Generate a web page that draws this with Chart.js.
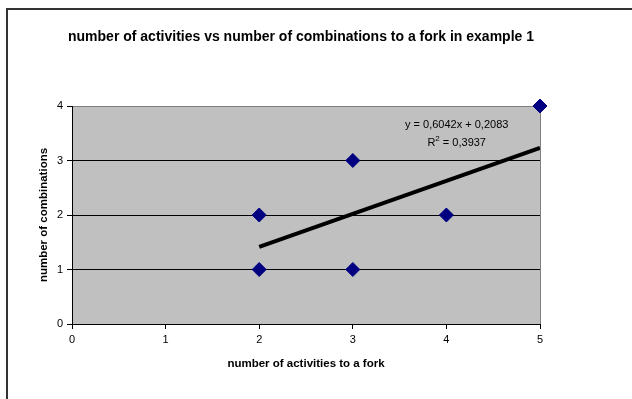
<!DOCTYPE html>
<html>
<head>
<meta charset="utf-8">
<script src="https://cdn.jsdelivr.net/npm/chart.js@4"></script>
<style>
  html, body { margin: 0; padding: 0; background: #ffffff; }
  #wrap { width: 632px; height: 399px; position: relative; }
</style>
</head>
<body>
<div id="wrap"><canvas id="chart" width="632" height="399"></canvas></div>
<script>
// Observations: activities to a fork (x) and combinations (y)
const activities = [2, 2, 3, 3, 4, 5];
const combinations = [1, 2, 1, 3, 2, 4];

// Linear trend fitted to the observations
const trendSlope = 0.6042;
const trendIntercept = 0.2083;
const rSquared = 0.3937;
const trendRange = [2, 5];

// Axis ticks
const xTicks = [0, 1, 2, 3, 4, 5];
const yTicks = [0, 1, 2, 3, 4];

const chartTitle = 'number of activities vs number of combinations to a fork in example 1';
const xTitle = 'number of activities to a fork';
const yTitle = 'number of combinations';

const FONT = "'Liberation Sans', Arial, sans-serif";
const fmt = v => v.toFixed(4).replace('.', ',');

const points = activities.map((x, i) => ({ x, y: combinations[i] }));
const trendPoints = trendRange.map(x => ({ x, y: trendSlope * x + trendIntercept }));

const framePlugin = {
  id: 'frame',
  beforeDraw(chart) {
    const { ctx, chartArea: a } = chart;
    ctx.save();
    ctx.fillStyle = '#ffffff';
    ctx.fillRect(0, 0, chart.width, chart.height);
    ctx.fillStyle = '#c0c0c0';
    ctx.fillRect(a.left, a.top, a.right - a.left, a.bottom - a.top);
    // outer frame (left and top edges)
    ctx.strokeStyle = '#333333';
    ctx.lineWidth = 2;
    ctx.beginPath();
    ctx.moveTo(7, chart.height);
    ctx.lineTo(7, 9);
    ctx.lineTo(chart.width, 9);
    ctx.stroke();
    // chart title
    ctx.fillStyle = '#000000';
    ctx.font = 'bold 14px ' + FONT;
    ctx.textAlign = 'center';
    ctx.textBaseline = 'middle';
    ctx.fillText(chartTitle, 301, 37);
    ctx.restore();
  },
  afterDatasetsDraw(chart) {
    const { ctx } = chart;
    const xs = chart.scales.x, ys = chart.scales.y;
    const cx = xs.getPixelForValue(4.11);
    const y1 = ys.getPixelForValue(3.66);
    const y2 = ys.getPixelForValue(3.32);
    ctx.save();
    ctx.fillStyle = '#000000';
    ctx.font = '11px ' + FONT;
    ctx.textBaseline = 'middle';
    ctx.textAlign = 'center';
    ctx.fillText('y = ' + fmt(trendSlope) + 'x + ' + fmt(trendIntercept), cx, y1);
    // R² with a raised small 2
    const rest = ' = ' + fmt(rSquared);
    const wR = ctx.measureText('R').width;
    ctx.font = '8px ' + FONT;
    const w2 = ctx.measureText('2').width;
    ctx.font = '11px ' + FONT;
    const wRest = ctx.measureText(rest).width;
    const x0 = cx - (wR + w2 + wRest) / 2;
    ctx.textAlign = 'left';
    ctx.fillText('R', x0, y2);
    ctx.font = '8px ' + FONT;
    ctx.fillText('2', x0 + wR, y2 - 4);
    ctx.font = '11px ' + FONT;
    ctx.fillText(rest, x0 + wR + w2, y2);
    ctx.restore();
  }
};

new Chart(document.getElementById('chart'), {
  type: 'scatter',
  data: {
    datasets: [
      {
        type: 'line',
        label: 'trend',
        data: trendPoints,
        borderColor: '#000000',
        borderWidth: 4,
        pointRadius: 0,
        fill: false,
        order: 2
      },
      {
        label: 'combinations',
        data: points,
        pointStyle: 'rectRot',
        pointRadius: 7,
        pointHoverRadius: 7,
        backgroundColor: '#000080',
        borderColor: '#000080',
        borderWidth: 1,
        clip: false,
        order: 1
      }
    ]
  },
  options: {
    responsive: false,
    animation: false,
    events: [],
    layout: { padding: { top: 106, right: 92, left: 0, bottom: 0 } },
    plugins: {
      legend: { display: false },
      title: { display: false },
      tooltip: { enabled: false }
    },
    scales: {
      x: {
        type: 'linear',
        min: 0,
        max: 5,
        afterBuildTicks: s => { s.ticks = xTicks.map(v => ({ value: v })); },
        afterFit: s => { s.height = 75; },
        ticks: { color: '#000000', font: { family: FONT, size: 11 }, padding: 4, maxRotation: 0 },
        grid: {
          color: c => (c.tick && c.tick.value === 5 ? '#808080' : 'rgba(0,0,0,0)'),
          tickColor: '#000000',
          tickLength: 5,
          lineWidth: 1
        },
        border: { color: '#000000', width: 1 },
        title: {
          display: true,
          text: xTitle,
          color: '#000000',
          font: { family: FONT, size: 11.5, weight: 'bold' },
          padding: { top: 0, bottom: 28 }
        }
      },
      y: {
        type: 'linear',
        min: 0,
        max: 4,
        afterBuildTicks: s => { s.ticks = yTicks.map(v => ({ value: v })); },
        afterFit: s => { s.width = 72; },
        ticks: { color: '#000000', font: { family: FONT, size: 11 }, padding: 4 },
        grid: {
          color: c => (c.tick && c.tick.value === 4 ? '#808080' : '#000000'),
          tickColor: '#000000',
          tickLength: 5,
          lineWidth: 1
        },
        border: { color: '#000000', width: 1 },
        title: {
          display: true,
          text: yTitle,
          color: '#000000',
          font: { family: FONT, size: 11.5, weight: 'bold' },
          padding: { top: 37, bottom: 0 }
        }
      }
    }
  },
  plugins: [framePlugin]
});
</script>
</body>
</html>
